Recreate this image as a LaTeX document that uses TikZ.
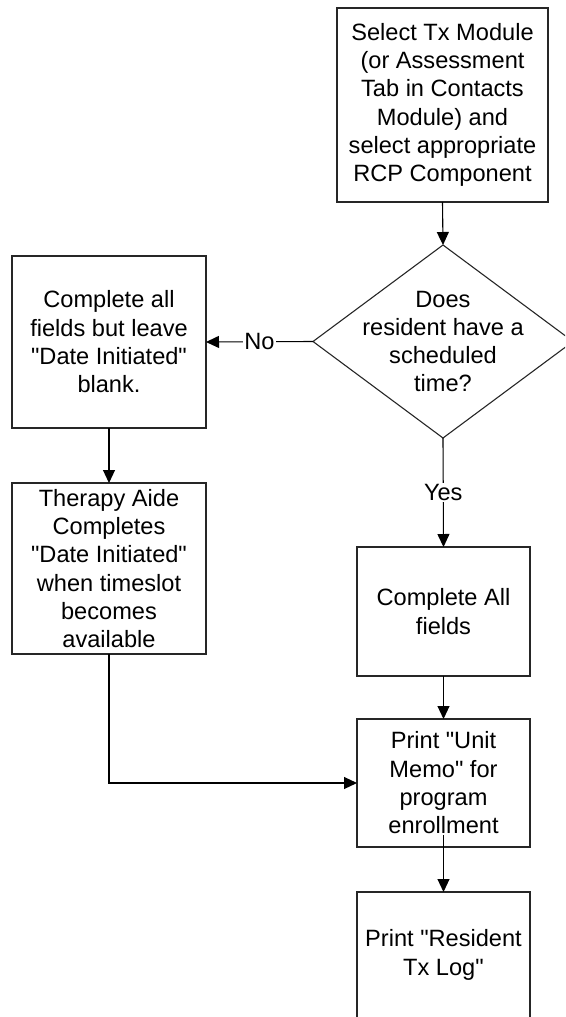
\documentclass[tikz,border=0pt]{standalone}
\usepackage{fontspec}
\setmainfont{Liberation Sans}[Ligatures=TeXOff]
\usetikzlibrary{shapes.geometric,arrows.meta}
\begin{document}
\begin{tikzpicture}[x=1pt,y=-1pt,
  every node/.style={font=\fontsize{23.6}{28.3}\selectfont, align=center},
  box/.style={draw=black!85, line width=1.1pt, inner sep=0pt, outer sep=0pt},
  conn/.style={draw=black, line width=1.1pt, -{Triangle[length=13pt,width=12pt]}},
  lbl/.style={fill=white, inner sep=1pt}]
\clip (0,0) rectangle (565,1017);
\node[box, minimum width=211pt, minimum height=194pt] (sel) at (442.5,105)
  {Select Tx Module\\(or Assessment\\Tab in Contacts\\Module) and\\select appropriate\\RCP Component};
\node[box, diamond, minimum width=260pt, minimum height=193pt] (dec) at (443,341.5) {};
\node (dectext) at (dec.center) {Does\\resident have a\\scheduled\\time?};
\node[box, minimum width=194pt, minimum height=172pt] (blank) at (109,342)
  {Complete all\\fields but leave\\"Date Initiated"\\blank.};
\node[box, minimum width=194pt, minimum height=171pt] (aide) at (109,568.5)
  {Therapy Aide\\Completes\\"Date Initiated"\\when timeslot\\becomes\\available};
\node[box, minimum width=173pt, minimum height=129pt] (all) at (443.5,611.5)
  {Complete All\\fields};
\node[box, minimum width=173pt, minimum height=128pt] (memo) at (443.5,783)
  {Print "Unit\\Memo" for\\program\\enrollment};
\node[box, minimum width=173pt, minimum height=126pt] (log) at (443.5,955)
  {Print "Resident\\Tx Log"};
\draw[conn] (sel.south) -- (dec.north);
\draw[conn] (dec.west) -- node[lbl] {No} (blank.east);
\draw[conn] (blank.south) -- (aide.north);
\draw[conn] (dec.south) -- node[lbl] {Yes} (all.north);
\draw[conn] (all.south) -- (memo.north);
\draw[conn] (aide.south) |- (memo.west);
\draw[conn] ([yshift=12pt]memo.south) -- (log.north);
\end{tikzpicture}
\end{document}
